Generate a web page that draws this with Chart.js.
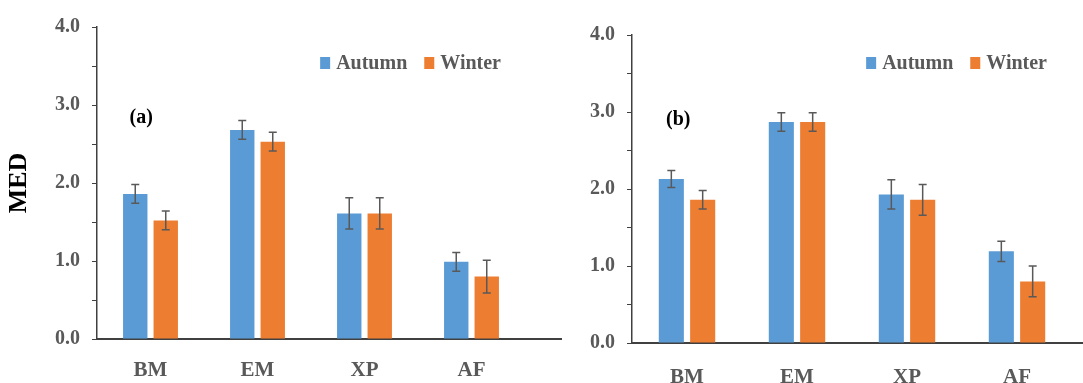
<!DOCTYPE html>
<html>
<head>
<meta charset="utf-8">
<script src="https://cdn.jsdelivr.net/npm/chart.js@4"></script>
<style>
  body { margin: 0; background: #fff; }
  #wrap { position: relative; width: 1083px; height: 383px; overflow: hidden; }
  canvas { position: absolute; top: 0; }
  #chartA { left: 0; }
  #chartB { left: 562px; }
</style>
</head>
<body>
<div id="wrap">
  <canvas id="chartA" width="562" height="383"></canvas>
  <canvas id="chartB" width="521" height="383"></canvas>
</div>
<script>
const categories = ['BM', 'EM', 'XP', 'AF'];

// panel (a)
const autumnA = [1.86, 2.68, 1.61, 0.99];
const winterA = [1.52, 2.53, 1.61, 0.80];
const autumnAErr = [0.12, 0.12, 0.20, 0.12];
const winterAErr = [0.12, 0.12, 0.20, 0.21];

// panel (b)
const autumnB = [2.13, 2.87, 1.93, 1.19];
const winterB = [1.86, 2.87, 1.86, 0.80];
const autumnBErr = [0.11, 0.12, 0.19, 0.13];
const winterBErr = [0.12, 0.12, 0.20, 0.20];

const BLUE = '#5B9BD5';
const ORANGE = '#ED7D31';
const GREY = '#595959';
const SERIF = "'Liberation Serif', 'Times New Roman', serif";

/****** Plugins ******/
const errorBars = {
    id: 'errorBars',
    afterDatasetsDraw(chart) {
        const ctx = chart.ctx;
        const y = chart.scales.y;
        ctx.save();
        ctx.strokeStyle = GREY;
        ctx.lineWidth = 1.5;
        chart.data.datasets.forEach((ds, i) => {
            const meta = chart.getDatasetMeta(i);
            meta.data.forEach((bar, j) => {
                const v = ds.data[j], e = ds.errors[j];
                const top = y.getPixelForValue(v + e);
                const bot = y.getPixelForValue(v - e);
                ctx.beginPath();
                ctx.moveTo(bar.x, top); ctx.lineTo(bar.x, bot);
                ctx.moveTo(bar.x - 4, top); ctx.lineTo(bar.x + 4, top);
                ctx.moveTo(bar.x - 4, bot); ctx.lineTo(bar.x + 4, bot);
                ctx.stroke();
            });
        });
        ctx.restore();
    }
};

// legend inside the plot, panel letter, x axis line running on to the canvas edge
const extras = {
    id: 'extras',
    afterDraw(chart, args, opts) {
        const ctx = chart.ctx;
        const {x, y} = chart.scales;
        const area = chart.chartArea;
        ctx.save();
        ctx.strokeStyle = '#404040';
        ctx.lineWidth = 2;
        ctx.beginPath();
        ctx.moveTo(area.right, area.bottom);
        ctx.lineTo(chart.width, area.bottom);
        ctx.stroke();

        ctx.fillStyle = '#000';
        ctx.font = 'bold 20px ' + SERIF;
        ctx.textAlign = 'left';
        ctx.textBaseline = 'middle';
        ctx.fillText(opts.letter, x.getPixelForValue(0) - 21, y.getPixelForValue(opts.letterY));

        // legend, laid out right to left
        const ly = area.top + opts.legendDy;
        let right = area.right - opts.legendDx;
        ctx.font = 'bold 20px ' + SERIF;
        const items = chart.data.datasets.slice().reverse();
        items.forEach(ds => {
            const w = ctx.measureText(ds.label).width;
            const textX = right - w;
            ctx.fillStyle = GREY;
            ctx.fillText(ds.label, textX, ly + 1);
            ctx.fillStyle = ds.backgroundColor;
            ctx.fillRect(textX - 16, ly - 6, 10, 12);
            right = textX - 16 - 17;
        });
        ctx.restore();
    }
};

const makeChart = (id, autumn, winter, autumnErr, winterErr, o) => new Chart(
    document.getElementById(id),
    {
        type: 'bar',
        data: {
            labels: categories,
            datasets: [
                { label: 'Autumn', data: autumn, errors: autumnErr, backgroundColor: BLUE },
                { label: 'Winter', data: winter, errors: winterErr, backgroundColor: ORANGE }
            ]
        },
        options: {
            responsive: false,
            animation: false,
            categoryPercentage: 0.57,
            barPercentage: 0.8,
            layout: {
                padding: { top: o.top, right: o.right, left: 0, bottom: 0 }
            },
            plugins: {
                legend: { display: false },
                tooltip: { enabled: false },
                extras: { letter: o.letter, letterY: o.letterY, legendDx: o.legendDx, legendDy: o.legendDy }
            },
            scales: {
                x: {
                    grid: { display: false },
                    border: { color: '#404040', width: 2 },
                    ticks: {
                        color: GREY,
                        padding: o.xPad,
                        font: { family: SERIF, size: 21, weight: 'bold' }
                    },
                    afterFit: s => { s.height = o.xHeight; }
                },
                y: {
                    min: 0,
                    max: 4,
                    grid: { drawOnChartArea: false, tickLength: 5, color: '#404040' },
                    border: { color: '#404040', width: 1.5 },
                    ticks: {
                        stepSize: 0.5,
                        color: GREY,
                        padding: 12,
                        font: { family: SERIF, size: 20, weight: 'bold' },
                        callback: v => Number.isInteger(v) ? v.toFixed(1) : ''
                    },
                    title: {
                        display: o.yTitle,
                        text: 'MED',
                        color: '#000',
                        font: { family: SERIF, size: 26, weight: 'bold' }
                    },
                    afterFit: s => { s.width = o.yWidth; }
                }
            }
        },
        plugins: [errorBars, extras]
    }
);

makeChart('chartA', autumnA, winterA, autumnAErr, winterAErr, {
    top: 27, right: 37, xHeight: 44, yWidth: 97, xPad: 11,
    legendDx: 24, legendDy: 36, letter: '(a)', letterY: 2.83, yTitle: true
});

makeChart('chartB', autumnB, winterB, autumnBErr, winterBErr, {
    top: 35, right: 11, xHeight: 40, yWidth: 70, xPad: 14,
    legendDx: 25, legendDy: 28, letter: '(b)', letterY: 2.9, yTitle: false
});
</script>
</body>
</html>
